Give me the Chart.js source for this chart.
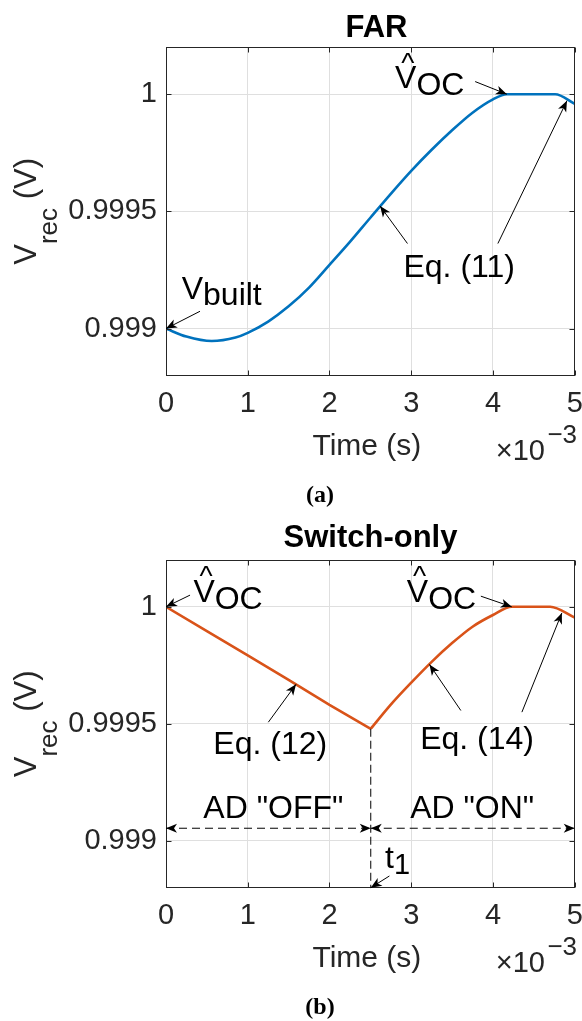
<!DOCTYPE html>
<html><head><meta charset="utf-8">
<script src="https://cdn.jsdelivr.net/npm/chart.js@4/dist/chart.umd.min.js"></script>
<style>
html,body{margin:0;padding:0;background:#fff;width:582px;height:1021px;overflow:hidden}
canvas{position:absolute;left:0}
</style></head><body>
<canvas id="c1" width="582" height="510" style="top:0"></canvas>
<canvas id="c2" width="582" height="511" style="top:510px"></canvas>
<script>
// ---------- data ----------
const xTicks = [0, 1, 2, 3, 4, 5];
const xTickLabels = ['0', '1', '2', '3', '4', '5'];
const yTicks = [0.999, 0.9995, 1];
const yTickLabels = ['0.999', '0.9995', '1'];

// FAR (time in units of 1e-3 s)
const farT = [0, 0.25, 0.56, 0.85, 1.0, 1.25, 1.5, 1.75, 2.0, 2.25, 2.5, 2.75, 3.0, 3.25, 3.5, 3.75, 4.0, 4.17, 4.76, 5.0];
const farV = [0.999, 0.998966, 0.998947, 0.998962, 0.998982, 0.999030, 0.999095, 0.999175, 0.999272, 0.999370, 0.999473, 0.999575, 0.999673, 0.999763, 0.999846, 0.999921, 0.999978, 1.0, 1.0, 0.999959];

// Switch-only: AD "OFF" part and AD "ON" part
const swOffT = [0, 0.5, 1.0, 1.5, 2.0, 2.505];
const swOffV = [1.0, 0.999896, 0.999793, 0.999688, 0.999581, 0.999479];
const swOnT = [2.505, 2.75, 3.0, 3.25, 3.5, 3.75, 4.0, 4.23, 4.70, 5.0];
const swOnV = [0.999479, 0.999582, 0.999676, 0.999765, 0.999845, 0.999915, 0.999965, 1.0, 1.0, 0.999954];

// annotations (data coordinates)
const farLabels = [
  {t: 0.192, v: 0.999128, parts: [['V', 0, 32], ['built', 6, 32]]},
  {t: 2.803, v: 1.0000256, hat: true, parts: [['V', 0, 32], ['OC', 7, 32]]},
  {t: 2.905, v: 0.99922, parts: [['Eq. (11)', 0, 32]]}
];
const farArrows = [
  [0.416, 0.999074, 0, 0.999],
  [3.782, 1.0000538, 4.17, 1.0],
  [2.954, 0.999363, 2.619, 0.999523],
  [4.06, 0.999363, 4.905, 0.999972]
];
const swLabels = [
  {t: 0.335, v: 1.000021, hat: true, parts: [['V', 0, 32], ['OC', 7, 32]]},
  {t: 2.946, v: 1.000021, hat: true, parts: [['V', 0, 32], ['OC', 7, 32]]},
  {t: 0.579, v: 0.999371, parts: [['Eq. (12)', 0, 32]]},
  {t: 3.109, v: 0.999393, parts: [['Eq. (14)', 0, 32]]},
  {t: 0.457, v: 0.999096, parts: [['AD "OFF"', 0, 32]]},
  {t: 2.987, v: 0.999096, parts: [['AD "ON"', 0, 32]]},
  {t: 2.68, v: 0.998886, parts: [['t', 0, 32], ['1', 6, 29]]}
];
const swArrows = [
  [0.294, 1.00005, 0, 1.0],
  [3.852, 1.0000454, 4.23, 1.0],
  [1.252, 0.999507, 1.591, 0.999669],
  [3.607, 0.999557, 3.223, 0.999754],
  [4.354, 0.99955, 4.843, 0.999974],
  [2.733, 0.99885, 2.505, 0.9988]
];
const swDoubleArrows = [
  [0, 0.999054, 2.505, 0.999054],
  [2.505, 0.999054, 5, 0.999054]
];
const swDashedLines = [
  [2.505, 0.999479, 2.505, 0.9988]
];

// ---------- drawing helpers ----------
const FONT = '"Liberation Sans", Arial, sans-serif';
const AX = '#262626';
Chart.defaults.font.family = FONT;
Chart.defaults.font.size = 29;
Chart.defaults.color = AX;

function head(ctx, x1, y1, x2, y2) {
  const a = Math.atan2(y2 - y1, x2 - x1);
  const L = 11, W = 4.5, N = 3;
  ctx.save();
  ctx.translate(x2, y2); ctx.rotate(a);
  ctx.beginPath();
  ctx.moveTo(0, 0); ctx.lineTo(-L, -W); ctx.lineTo(-L + N, 0); ctx.lineTo(-L, W);
  ctx.closePath(); ctx.fill();
  ctx.restore();
}
function arrow(ctx, x1, y1, x2, y2, dashed, both) {
  ctx.save();
  ctx.strokeStyle = '#000'; ctx.fillStyle = '#000'; ctx.lineWidth = 1;
  if (dashed) ctx.setLineDash([8, 5]);
  ctx.beginPath(); ctx.moveTo(x1, y1); ctx.lineTo(x2, y2); ctx.stroke();
  ctx.setLineDash([]);
  head(ctx, x1, y1, x2, y2);
  if (both) head(ctx, x2, y2, x1, y1);
  ctx.restore();
}
function rich(ctx, x, y, lab) {
  ctx.save();
  ctx.fillStyle = '#000'; ctx.textBaseline = 'alphabetic'; ctx.textAlign = 'left';
  let cx = x;
  lab.parts.forEach(([txt, dy, size], i) => {
    ctx.font = size + 'px ' + FONT;
    const w = ctx.measureText(txt).width;
    ctx.fillText(txt, cx, y + dy);
    if (i === 0 && lab.hat) {
      ctx.font = '28px ' + FONT;
      ctx.textAlign = 'center';
      ctx.fillText('^', cx + w / 2 + 2, y - 16.5);
      ctx.textAlign = 'left';
    }
    cx += w;
  });
  ctx.restore();
}

function makePlugin(o) {
  return {
    id: 'matlabLook',
    afterDraw(chart) {
      const ctx = chart.ctx;
      const a = chart.chartArea;
      const xs = chart.scales.x, ys = chart.scales.y;
      const L = Math.round(a.left) + 0.5, R = Math.round(a.right) - 0.5;
      const T = Math.round(a.top) + 0.5, B = Math.round(a.bottom) - 0.5;
      ctx.save();
      // box
      ctx.strokeStyle = AX; ctx.lineWidth = 1;
      ctx.strokeRect(L, T, R - L, B - T);
      // inward ticks
      ctx.beginPath();
      xTicks.forEach(v => {
        const p = Math.round(xs.getPixelForValue(v)) + 0.5;
        ctx.moveTo(p, B); ctx.lineTo(p, B - 5);
        ctx.moveTo(p, T); ctx.lineTo(p, T + 5);
      });
      yTicks.forEach(v => {
        const p = Math.round(ys.getPixelForValue(v)) + 0.5;
        ctx.moveTo(L, p); ctx.lineTo(L + 5, p);
        ctx.moveTo(R, p); ctx.lineTo(R - 5, p);
      });
      ctx.stroke();

      // title
      ctx.fillStyle = '#000';
      ctx.font = 'bold 31px ' + FONT;
      ctx.textAlign = 'center'; ctx.textBaseline = 'alphabetic';
      ctx.fillText(o.title, o.titleX, 36.7);

      // x label
      ctx.fillStyle = AX;
      ctx.font = '30px ' + FONT;
      ctx.fillText('Time (s)', (a.left + a.right) / 2 - 3.5, a.bottom + 79);
      // exponent
      ctx.textAlign = 'left';
      ctx.font = '29px ' + FONT;
      const ex = a.right - 79, eb = a.bottom + 84.5;
      ctx.fillText('\u00d710', ex, eb);
      const w10 = ctx.measureText('\u00d710').width;
      ctx.font = '26px ' + FONT;
      ctx.fillText('\u22123', ex + w10 + 2.5, eb - 17);

      // y label (rotated)
      ctx.save();
      ctx.translate(36, (a.top + a.bottom) / 2);
      ctx.rotate(-Math.PI / 2);
      ctx.font = '31px ' + FONT;
      const wV = ctx.measureText('V').width, wP = ctx.measureText(' (V)').width;
      ctx.font = '26px ' + FONT;
      const wR = ctx.measureText('rec').width;
      let sx = -(wV + wR + wP) / 2;
      ctx.textAlign = 'left';
      ctx.font = '31px ' + FONT; ctx.fillText('V', sx, 0);
      ctx.font = '26px ' + FONT; ctx.fillText('rec', sx + wV, 21);
      ctx.font = '31px ' + FONT; ctx.fillText(' (V)', sx + wV + wR, 0);
      ctx.restore();

      // caption
      ctx.fillStyle = '#000';
      ctx.textAlign = 'center';
      ctx.font = 'bold 24px "Liberation Serif", "DejaVu Serif", serif';
      ctx.fillText(o.caption, 320, a.bottom + 126.5);

      // annotations
      (o.dashed || []).forEach(([t1, v1, t2, v2]) => {
        ctx.save();
        ctx.strokeStyle = '#000'; ctx.lineWidth = 1; ctx.setLineDash([8, 4]);
        ctx.beginPath();
        ctx.moveTo(xs.getPixelForValue(t1), ys.getPixelForValue(v1));
        ctx.lineTo(xs.getPixelForValue(t2), ys.getPixelForValue(v2));
        ctx.stroke();
        ctx.restore();
      });
      (o.doubles || []).forEach(([t1, v1, t2, v2]) => {
        arrow(ctx, xs.getPixelForValue(t1), ys.getPixelForValue(v1), xs.getPixelForValue(t2), ys.getPixelForValue(v2), true, true);
      });
      o.arrows.forEach(([t1, v1, t2, v2]) => {
        arrow(ctx, xs.getPixelForValue(t1), ys.getPixelForValue(v1), xs.getPixelForValue(t2), ys.getPixelForValue(v2), false, false);
      });
      o.labels.forEach(lab => rich(ctx, xs.getPixelForValue(lab.t), ys.getPixelForValue(lab.v), lab));
      ctx.restore();
    }
  };
}

function makeChart(id, datasets, o) {
  const canvas = document.getElementById(id);
  const H = canvas.height;
  const tickFont = {family: FONT, size: 29, weight: 'normal'};
  return new Chart(canvas, {
    type: 'line',
    data: {datasets},
    options: {
      responsive: false, animation: false, devicePixelRatio: 1, events: [],
      layout: {padding: {top: o.top, right: 7.3, left: 0, bottom: 0}},
      plugins: {legend: {display: false}, tooltip: {enabled: false}, title: {display: false}},
      elements: {point: {radius: 0}},
      scales: {
        x: {
          type: 'linear', min: 0, max: 5,
          afterBuildTicks: s => { s.ticks = xTicks.map(v => ({value: v})); },
          ticks: {callback: (v, i) => xTickLabels[i], font: tickFont, color: AX, padding: 11, maxRotation: 0, minRotation: 0, autoSkip: false},
          grid: {color: '#dfdfdf', drawTicks: false, lineWidth: 1},
          border: {display: false},
          afterFit: s => { s.height = H - o.bottom; s.paddingLeft = 0; s.paddingRight = 0; }
        },
        y: {
          type: 'linear', min: 0.9988, max: 1.0002,
          afterBuildTicks: s => { s.ticks = yTicks.map(v => ({value: v})); },
          ticks: {callback: (v, i) => yTickLabels[i], font: tickFont, color: AX, padding: 9, autoSkip: false},
          grid: {color: '#dfdfdf', drawTicks: false, lineWidth: 1},
          border: {display: false},
          afterFit: s => { s.width = 166; s.paddingTop = 0; s.paddingBottom = 0; }
        }
      }
    },
    plugins: [makePlugin(o)]
  });
}

const pts = (ts, vs) => ts.map((t, i) => ({x: t, y: vs[i]}));

makeChart('c1', [
  {data: pts(farT, farV), borderColor: '#0072BD', borderWidth: 2.6, fill: false, cubicInterpolationMode: 'monotone'}
], {top: 47.3, bottom: 375.5, title: 'FAR', titleX: 376.5, caption: '(a)',
   labels: farLabels, arrows: farArrows});

makeChart('c2', [
  {data: pts(swOffT, swOffV), borderColor: '#D95319', borderWidth: 2.6, fill: false, tension: 0},
  {data: pts(swOnT, swOnV), borderColor: '#D95319', borderWidth: 2.6, fill: false, cubicInterpolationMode: 'monotone'}
], {top: 50, bottom: 377.7, title: 'Switch-only', titleX: 370.5, caption: '(b)',
   labels: swLabels, arrows: swArrows, doubles: swDoubleArrows, dashed: swDashedLines});
</script>
</body></html>
